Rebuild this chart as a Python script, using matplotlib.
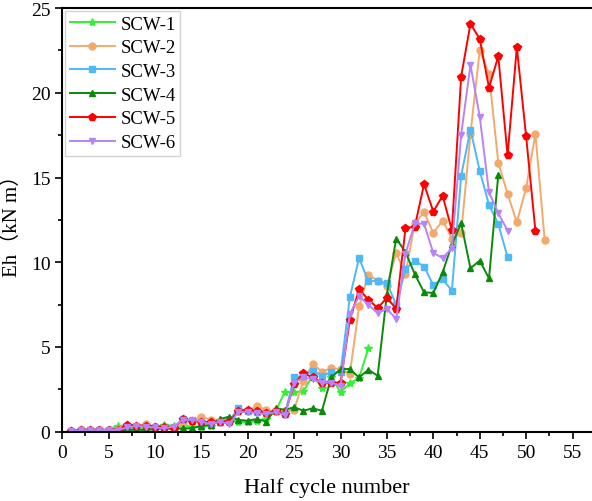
import numpy as np
import matplotlib.pyplot as plt

plt.rcParams['font.family'] = ['Liberation Serif', 'Noto Sans CJK SC']

# Energy dissipation per half cycle (kN m)
scw1 = [0.05, 0.08, 0.08, 0.1, 0.12, 0.36, 0.2, 0.2, 0.15, 0.2, 0.4, 0.35, 0.35, 0.3, 0.3,
        0.35, 0.7, 0.7, 0.6, 0.55, 0.65, 0.75, 1.2, 2.36, 2.32, 2.4, 3.3, 2.6, 3.2, 2.33,
        2.87, 3.17, 4.94]
scw2 = [0.05, 0.08, 0.1, 0.1, 0.12, 0.15, 0.35, 0.35, 0.45, 0.3, 0.3, 0.15, 0.5, 0.65, 0.89,
        0.71, 0.6, 0.65, 1.2, 1.25, 1.5, 1.3, 1.2, 1.2, 1.3, 3.0, 4.0, 3.55, 3.75, 3.7,
        3.4, 7.4, 9.27, 8.9, 8.6, 10.55, 9.3, 12.3, 12.95, 11.73, 12.46, 11.4, 11.7, 17.57,
        22.5, 21.1, 15.88, 14.03, 12.36, 14.39, 17.57, 11.32]
scw3 = [0.05, 0.08, 0.08, 0.1, 0.1, 0.12, 0.3, 0.3, 0.3, 0.25, 0.25, 0.2, 0.75, 0.65, 0.6,
        0.5, 0.6, 0.65, 1.4, 1.2, 1.15, 1.1, 1.2, 1.05, 3.2, 3.3, 3.6, 3.3, 3.5, 3.5,
        7.93, 10.25, 8.88, 8.9, 8.78, 7.5, 9.6, 10.1, 9.74, 8.66, 9.0, 8.33, 15.1, 17.83,
        15.4, 13.38, 12.26, 10.3]
scw4 = [0.03, 0.05, 0.05, 0.07, 0.08, 0.1, 0.1, 0.12, 0.1, 0.15, 0.2, 0.15, 0.2, 0.2, 0.35,
        0.4, 0.75, 0.89, 0.7, 0.65, 0.75, 0.6, 1.38, 1.3, 1.44, 1.24, 1.38, 1.24, 3.2, 3.7,
        3.7, 3.2, 3.66, 3.3, 8.13, 11.4, 10.6, 9.3, 8.23, 8.19, 9.4, 11.05, 12.3, 9.64,
        10.1, 9.05, 15.17]
scw5 = [0.05, 0.08, 0.08, 0.1, 0.1, 0.12, 0.41, 0.35, 0.35, 0.3, 0.3, 0.2, 0.75, 0.65, 0.6,
        0.55, 0.6, 0.6, 1.2, 1.3, 1.2, 1.1, 1.2, 1.04, 2.8, 3.46, 3.2, 2.9, 2.9, 2.9,
        6.6, 8.4, 7.8, 7.3, 7.9, 7.25, 12.0, 12.1, 14.6, 12.99, 13.93, 11.89, 20.96, 24.07,
        23.18, 20.3, 22.16, 16.3, 22.69, 17.42, 11.87]
scw6 = [0.05, 0.08, 0.08, 0.1, 0.1, 0.1, 0.25, 0.35, 0.3, 0.25, 0.2, 0.3, 0.7, 0.7, 0.6,
        0.45, 0.6, 0.45, 1.17, 1.17, 1.1, 1.05, 1.15, 1.0, 2.9, 3.2, 3.1, 2.9, 2.9, 2.7,
        6.95, 8.0, 7.48, 7.0, 7.25, 6.65, 10.5, 12.3, 12.26, 10.55, 10.25, 10.83, 17.52,
        21.65, 18.6, 14.13, 12.9, 11.87]

series = [
    ('SCW-1', scw1, '#33f033', '*', 6),
    ('SCW-2', scw2, '#f4a96c', 'o', 5),
    ('SCW-3', scw3, '#4fb8f7', 's', 4.5),
    ('SCW-4', scw4, '#0a8a0a', '^', 5),
    ('SCW-5', scw5, '#ff0000', 'p', 6),
    ('SCW-6', scw6, '#b784f7', 'v', 5),
]

fig = plt.figure(figsize=(5.92, 5.02), dpi=100)
ax = fig.add_axes([0.105, 0.138, 0.895, 0.844])

for name, vals, color, marker, ms in series:
    x = np.arange(1, len(vals) + 1)
    ax.plot(x, vals, color=color, marker=marker, markersize=ms, linewidth=1.4, label=name)

ax.set_xlim(0, 57.1)
ax.set_ylim(0, 25)
ax.set_xticks(np.arange(0, 56, 5))
ax.set_xticks(np.arange(2.5, 56, 5), minor=True)
ax.set_yticks(np.arange(0, 26, 5))
ax.set_yticks(np.arange(2.5, 25, 5), minor=True)
ax.tick_params(axis='both', which='major', direction='out', length=5, width=1.2, labelsize=14)
ax.tick_params(axis='both', which='minor', direction='out', length=3, width=1.2)
ax.spines['right'].set_visible(False)
for s in ['left', 'bottom', 'top']:
    ax.spines[s].set_linewidth(1.5)

ax.set_xlabel('Half cycle number', fontsize=16, labelpad=12)
ax.set_ylabel('Eh（kN m）', fontsize=15, labelpad=6)

ax.legend(loc='upper left', fontsize=13.5, frameon=True, fancybox=False, edgecolor='#c8c8c8',
          handlelength=2.4, borderpad=0.25, labelspacing=0.35, handletextpad=0.3,
          borderaxespad=0.15)

fig.savefig('out.png', dpi=100)
